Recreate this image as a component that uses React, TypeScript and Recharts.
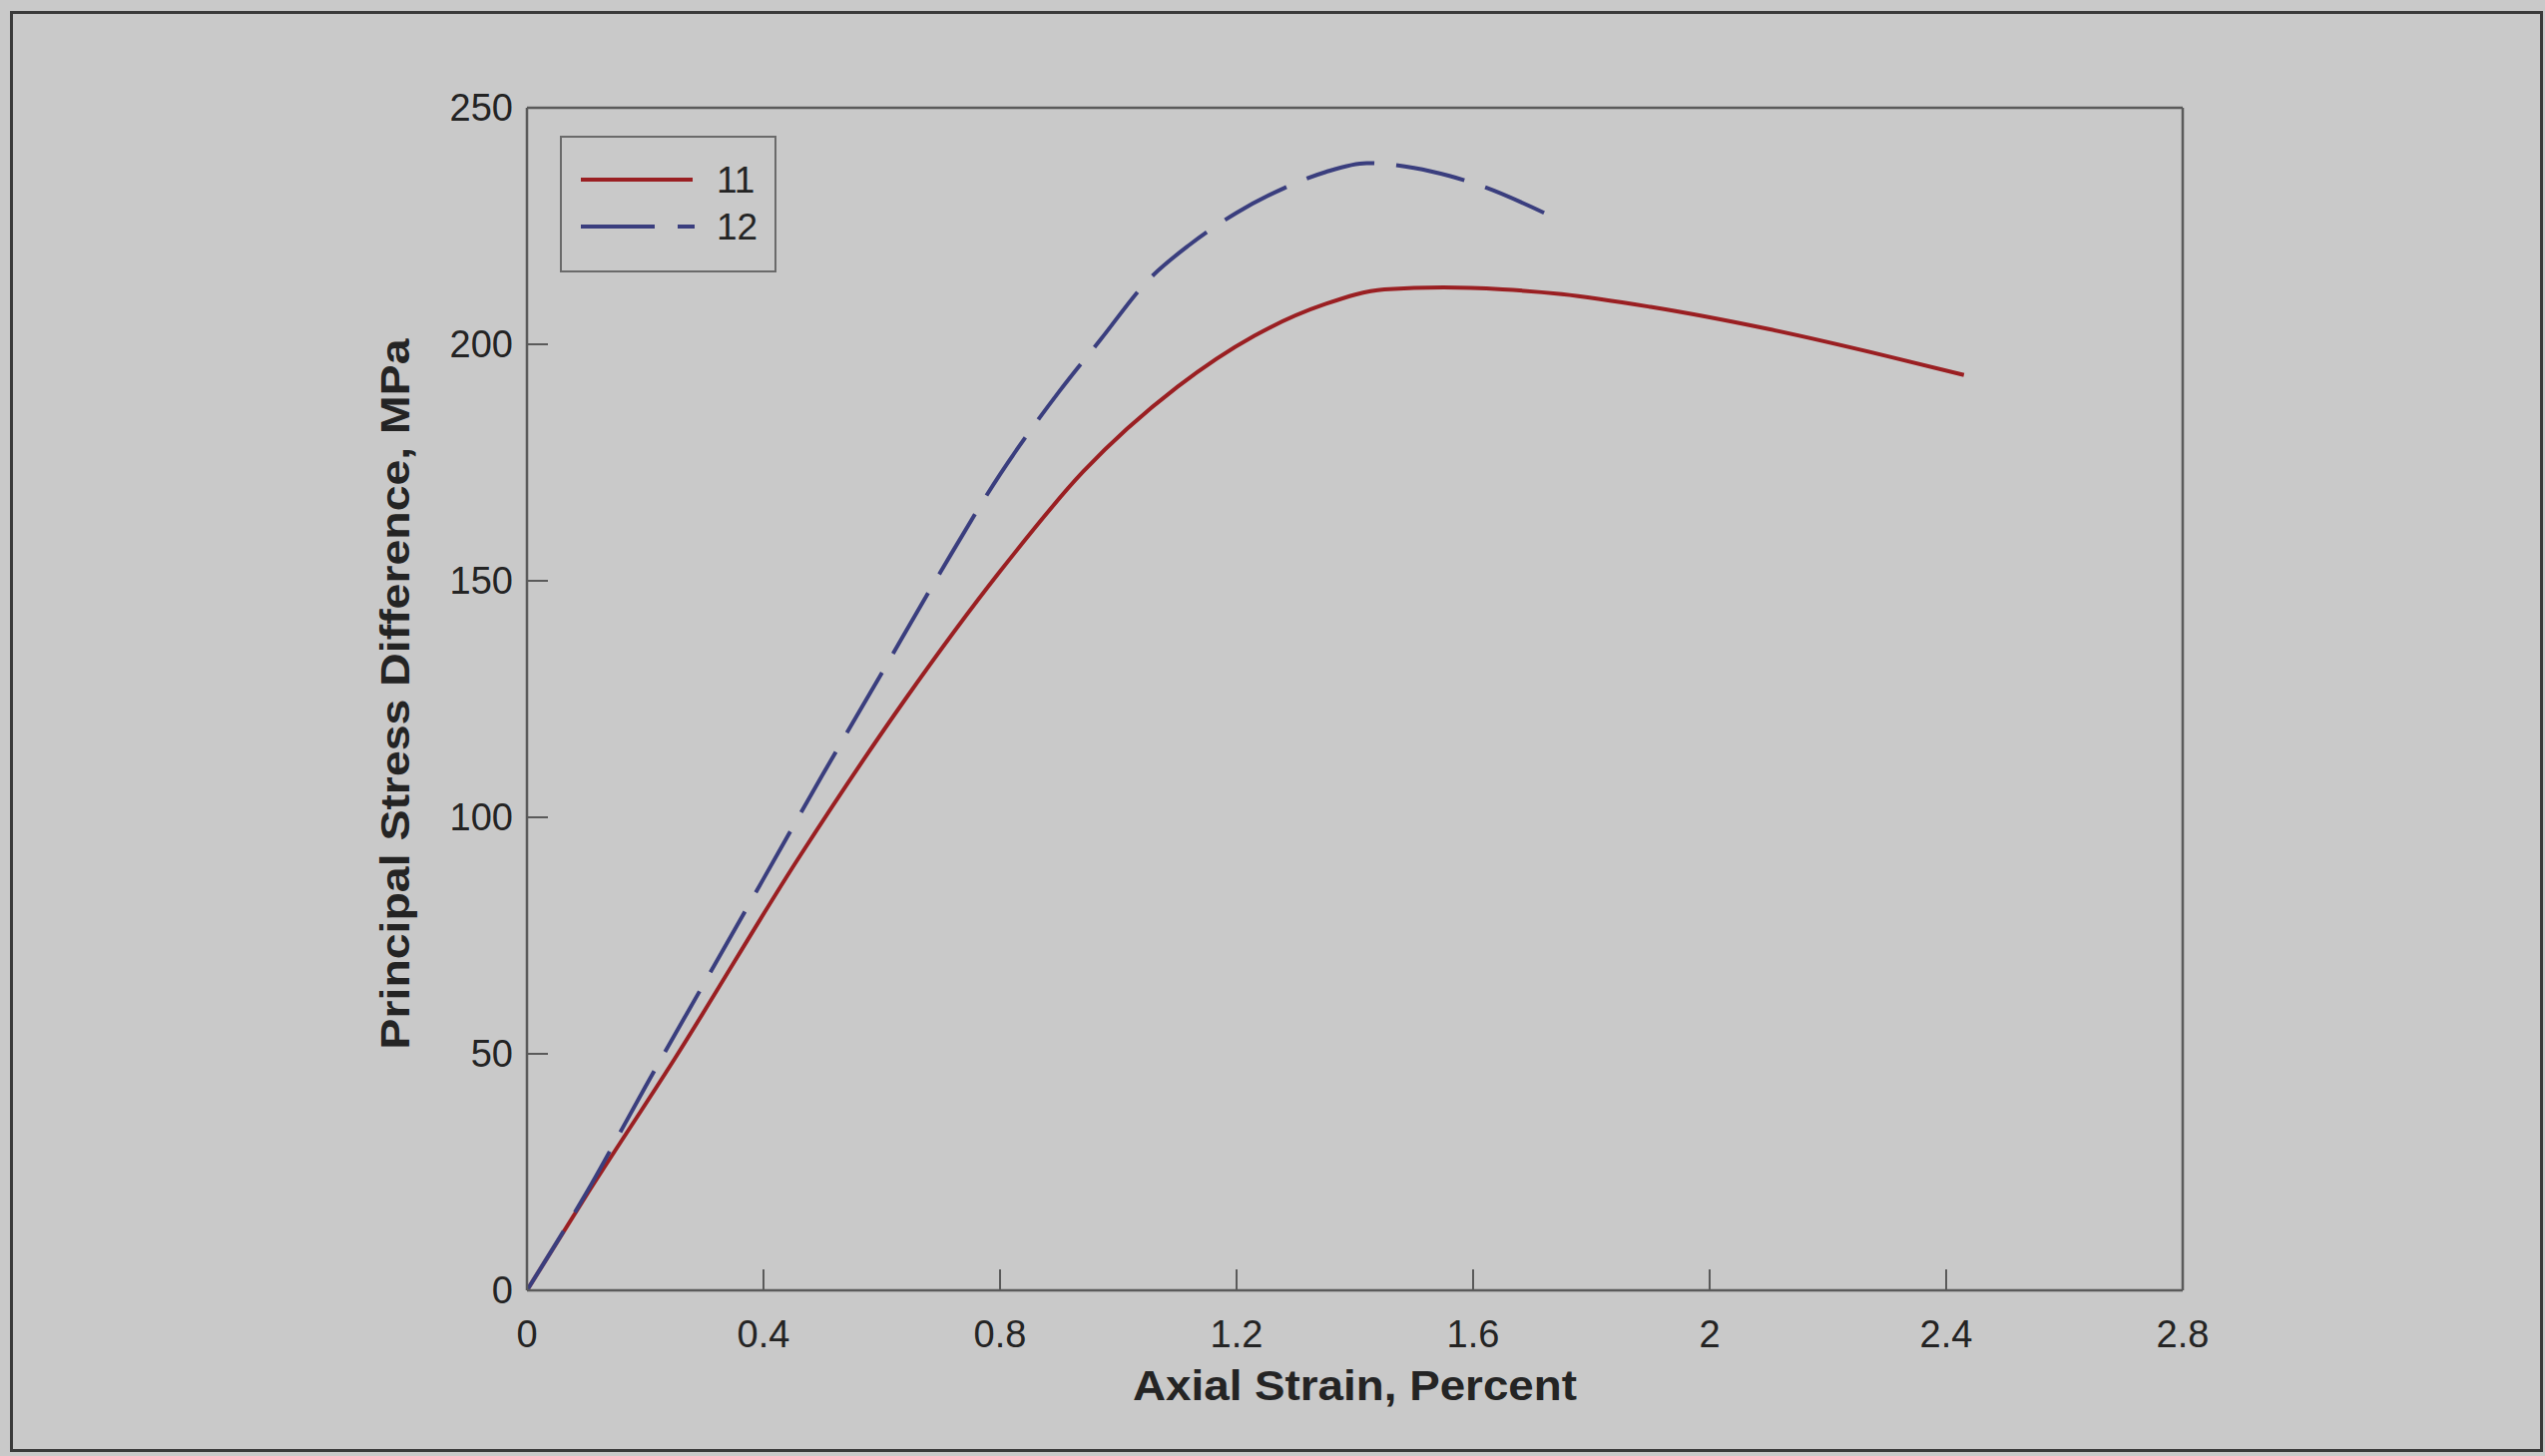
import React from 'react';
import { LineChart, Line, XAxis, YAxis, Legend } from 'recharts';

// ---- data ----
const strain11 = [0, 0.1, 0.25, 0.46, 0.64, 0.8, 0.94, 1.1, 1.23, 1.35, 1.45, 1.55, 1.65, 1.75, 1.9, 2.1, 2.3, 2.43];
const stress11 = [0, 20, 49, 91.5, 125, 152, 173, 191, 201.8, 208.5, 211.6, 212, 211.6, 210.6, 207.9, 203.2, 197.5, 193.5];

const strain12 = [0, 0.1, 0.2, 0.3, 0.4, 0.5, 0.6, 0.7, 0.8, 0.9, 0.97, 1.05, 1.12, 1.2, 1.28, 1.35, 1.42, 1.5, 1.56, 1.62, 1.72];
const stress12 = [0, 20.5, 43, 65, 87, 109, 130.5, 152, 172.5, 190, 201, 213.5, 221, 227.8, 233, 236.4, 238.3, 237.3, 235.6, 233.2, 227.8];

const seriesNames = ['11', '12'];
const xTicks = [0, 0.4, 0.8, 1.2, 1.6, 2, 2.4, 2.8];
const yTicks = [0, 50, 100, 150, 200, 250];
const xTitle = 'Axial Strain, Percent';
const yTitle = 'Principal Stress Difference, MPa';

// ---- styles ----
const W = 2550;
const H = 1459;
const BG = '#c9c9c9';
const AXIS = '#5a5a5a';
const TEXT = '#242424';
const FONT = '"Liberation Sans", Arial, sans-serif';
const RED = '#9a1f22';
const BLUE = '#3a3e7e';
const DASH = '70 22';

const data11 = strain11.map((x, i) => ({ x, y: stress11[i] }));
const data12 = strain12.map((x, i) => ({ x, y: stress12[i] }));

const XTitle = (props: any) => {
  const vb = props.viewBox || {};
  return (
    <text
      x={vb.x + vb.width / 2}
      y={vb.y + 110}
      textAnchor="middle"
      fontFamily={FONT}
      fontWeight="bold"
      fontSize={42}
      fill={TEXT}
      textLength={445}
      lengthAdjust="spacingAndGlyphs"
    >
      {xTitle}
    </text>
  );
};

const YTitle = (props: any) => {
  const vb = props.viewBox || {};
  const cx = vb.x - 18;
  const cy = vb.y + vb.height / 2 - 5;
  return (
    <text
      x={cx}
      y={cy}
      transform={`rotate(-90, ${cx}, ${cy})`}
      textAnchor="middle"
      fontFamily={FONT}
      fontWeight="bold"
      fontSize={40}
      fill={TEXT}
      textLength={712}
      lengthAdjust="spacingAndGlyphs"
    >
      {yTitle}
    </text>
  );
};

const LegendBox = () => {
  const rows = [
    { name: seriesNames[0], color: RED, dash: undefined as string | undefined },
    { name: seriesNames[1], color: BLUE, dash: '74 23' },
  ];
  return (
    <svg width={217} height={137} style={{ display: 'block' }}>
      <rect x={1} y={1} width={215} height={135} fill={BG} stroke="#6a6a6a" strokeWidth={2} />
      {rows.map((r, i) => {
        const ly = 44 + i * 47;
        return (
          <g key={r.name}>
            <line x1={21} x2={i === 0 ? 133 : 135} y1={ly} y2={ly} stroke={r.color} strokeWidth={4} strokeDasharray={r.dash} />
            <text x={157} y={ly + 13} fontFamily={FONT} fontSize={37} fill={TEXT}>
              {r.name}
            </text>
          </g>
        );
      })}
    </svg>
  );
};

export default function App() {
  return (
    <div style={{ position: 'absolute', left: 0, top: 0, width: W, height: H, background: BG, overflow: 'hidden' }}>
      <div
        style={{
          position: 'absolute',
          left: 10,
          top: 11,
          width: 2538,
          height: 1444,
          boxSizing: 'border-box',
          border: '3px solid #3a3a3a',
        }}
      />
      <div style={{ position: 'absolute', left: 0, top: 0 }}>
        <LineChart width={W} height={H} margin={{ top: 107, right: 362, bottom: 66, left: 428 }}>
          <XAxis
            xAxisId="b"
            type="number"
            dataKey="x"
            domain={[0, 2.8]}
            ticks={xTicks}
            interval={0}
            allowDataOverflow
            orientation="bottom"
            height={100}
            tickSize={-21}
            tickMargin={51}
            axisLine={{ stroke: AXIS, strokeWidth: 2.5 }}
            tickLine={{ stroke: AXIS, strokeWidth: 2 }}
            tick={{ fill: TEXT, fontSize: 38, fontFamily: FONT }}
            label={<XTitle />}
          />
          <XAxis
            xAxisId="t"
            type="number"
            dataKey="x"
            domain={[0, 2.8]}
            ticks={xTicks}
            interval={0}
            allowDataOverflow
            orientation="top"
            height={1}
            tickSize={-21}
            tick={false}
            axisLine={{ stroke: AXIS, strokeWidth: 2.5 }}
            tickLine={{ stroke: AXIS, strokeWidth: 2 }}
          />
          <YAxis
            yAxisId="l"
            type="number"
            domain={[0, 250]}
            ticks={yTicks}
            interval={0}
            allowDataOverflow
            orientation="left"
            width={100}
            tickSize={-21}
            tickMargin={35}
            axisLine={{ stroke: AXIS, strokeWidth: 2.5 }}
            tickLine={{ stroke: AXIS, strokeWidth: 2 }}
            tick={{ fill: TEXT, fontSize: 38, fontFamily: FONT }}
            label={<YTitle />}
          />
          <YAxis
            yAxisId="r"
            type="number"
            domain={[0, 250]}
            ticks={yTicks}
            interval={0}
            allowDataOverflow
            orientation="right"
            width={1}
            tickSize={-21}
            tick={false}
            axisLine={{ stroke: AXIS, strokeWidth: 2.5 }}
            tickLine={{ stroke: AXIS, strokeWidth: 2 }}
          />
          <Legend
            layout="vertical"
            align="center"
            verticalAlign="middle"
            content={<LegendBox />}
            wrapperStyle={{ left: 561, top: 136, width: 217, height: 137, margin: 0, padding: 0 }}
          />
          <Line
            xAxisId="b"
            yAxisId="l"
            data={data11}
            dataKey="y"
            name={seriesNames[0]}
            type="monotone"
            stroke={RED}
            strokeWidth={4}
            dot={false}
            activeDot={false}
            isAnimationActive={false}
          />
          <Line
            xAxisId="b"
            yAxisId="l"
            data={data12}
            dataKey="y"
            name={seriesNames[1]}
            type="monotone"
            stroke={BLUE}
            strokeWidth={4}
            strokeDasharray={DASH}
            dot={false}
            activeDot={false}
            isAnimationActive={false}
          />
        </LineChart>
      </div>
    </div>
  );
}
